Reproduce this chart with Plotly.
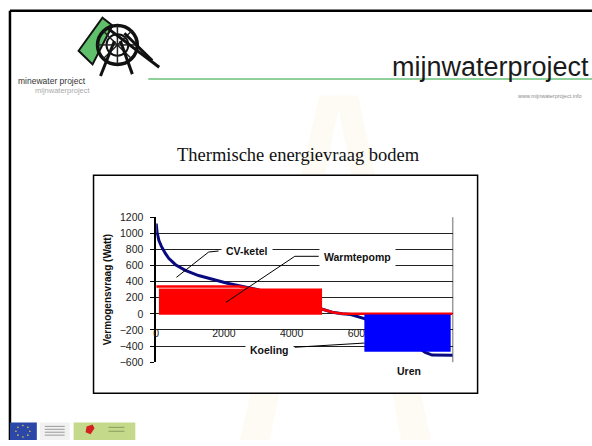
import plotly.graph_objects as go

W, H = 592, 446

# ---------------- data ----------------
hours = [0, 25, 80, 150, 270, 370, 570, 860, 1250, 1700, 2100, 2450, 3000, 3500,
         4000, 4500, 4900, 5200, 5500, 5750, 6150, 6600, 7100, 7600, 7950, 8150, 8760]
demand = [1120, 1010, 910, 840, 750, 690, 610, 540, 475, 420, 380, 350, 300, 240,
          175, 110, 53, 20, 0, -8, -60, -150, -260, -380, -478, -512, -515]

hp_hours = [0, 2450, 3000, 3500, 4000, 4500, 4900, 5200, 5500, 8760]
hp_power = [340, 340, 300, 240, 175, 110, 53, 20, 0, 0]

# drawn blocks on the slide: [x0, x1, y0, y1] in hours / Watt
warmtepomp_block = [80, 4900, -12, 315]
koeling_block = [6150, 8700, -7, -472]

y_ticks = [-600, -400, -200, 0, 200, 400, 600, 800, 1000, 1200]
x_ticks = [0, 2000, 4000, 6000, 8000]

chart_title = "Thermische energievraag bodem"
y_title = "Vermogensvraag (Watt)"
x_title = "Uren"

# callouts: text, label x/y, leader path points
callouts = [
    ("CV-ketel", 2675, 776, [(1843, 780), (1549, 767), (597, 453)]),
    ("Warmtepomp", 5938, 707, [(4800, 714), (4095, 714), (2058, 142)]),
    ("Koeling", 3336, -443, [(4095, -415), (6152, -363)]),
]

# ---------------- layout helpers (pixel -> paper) ----------------
def px(x):
    return x / W

def py(y):
    return 1 - y / H

PL, PR, PT, PB = 154, 452, 217, 366   # plot area in pixels
Y0, Y1 = -600, 1200
X0, X1 = 0, 8760

fig = go.Figure()

fig.add_trace(go.Scatter(x=hours, y=demand, mode="lines",
                         line=dict(color="#0a0a80", width=3), hoverinfo="skip",
                         showlegend=False))
fig.add_trace(go.Scatter(x=hp_hours, y=hp_power, mode="lines",
                         line=dict(color="#ff0000", width=2.5), hoverinfo="skip",
                         showlegend=False))

def ppath(points, close=True):
    s = "M " + " L ".join(f"{px(a)},{py(b)}" for a, b in points)
    return s + (" Z" if close else "")

shapes = []
# very faint watermark (headframe silhouette) in the slide background
WM = "#fdfbf3"
for pts in [
    [(318, 92), (340, 92), (268, 446), (238, 446)],
    [(335, 92), (357, 92), (430, 446), (400, 446)],
    [(296, 300), (392, 300), (398, 318), (290, 318)],
]:
    shapes.append(dict(type="path", xref="paper", yref="paper", path=ppath(pts),
                       fillcolor=WM, line=dict(width=0), layer="below"))

# overlay blocks
shapes.append(dict(type="rect", xref="x", yref="y",
                   x0=warmtepomp_block[0], x1=warmtepomp_block[1],
                   y0=warmtepomp_block[2], y1=warmtepomp_block[3],
                   fillcolor="#ff0000", line=dict(width=0), layer="above"))
shapes.append(dict(type="rect", xref="x", yref="y",
                   x0=koeling_block[0], x1=koeling_block[1],
                   y0=koeling_block[2], y1=koeling_block[3],
                   fillcolor="#0000ff", line=dict(width=0), layer="above"))
# leader lines
for text, lx, ly, pts in callouts:
    path = "M " + " L ".join(f"{a},{b}" for a, b in pts)
    shapes.append(dict(type="path", xref="x", yref="y", path=path,
                       line=dict(color="black", width=1), layer="above"))

# chart box (white panel)
shapes.append(dict(type="rect", xref="paper", yref="paper",
                   x0=px(91), x1=px(477), y0=py(398), y1=py(174),
                   fillcolor="white",
                   line=dict(color="black", width=1.5), layer="below"))
# plot frame (grey right)
shapes.append(dict(type="line", xref="paper", yref="paper",
                   x0=px(PR), x1=px(PR), y0=py(PB), y1=py(PT),
                   line=dict(color="#9a9a9a", width=1.5), layer="below"))
# slide border
shapes.append(dict(type="line", xref="paper", yref="paper",
                   x0=px(7), x1=px(592), y0=py(5), y1=py(5),
                   line=dict(color="black", width=2.5)))
shapes.append(dict(type="line", xref="paper", yref="paper",
                   x0=px(7), x1=px(7), y0=py(5), y1=py(446),
                   line=dict(color="black", width=2.5)))
# header green rule
shapes.append(dict(type="line", xref="paper", yref="paper",
                   x0=px(146), x1=px(592), y0=py(75), y1=py(75),
                   line=dict(color="#8fcf9a", width=2)))

# header logo (headframe)
shapes.append(dict(type="path", xref="paper", yref="paper",
                   path=ppath([(100, 12), (110, 20), (90, 60), (76, 46)]),
                   fillcolor="#5fbf6a", line=dict(color="#111", width=2)))
shapes.append(dict(type="circle", xref="paper", yref="paper",
                   x0=px(95), x1=px(135), y0=py(60), y1=py(20),
                   line=dict(color="#111", width=3.5)))
shapes.append(dict(type="circle", xref="paper", yref="paper",
                   x0=px(104), x1=px(126), y0=py(51), y1=py(29),
                   line=dict(color="#111", width=2)))
for (a, b) in [(115, 20), (135, 40), (115, 60), (95, 40), (129, 26), (101, 26), (129, 54), (101, 54)]:
    shapes.append(dict(type="line", xref="paper", yref="paper",
                       x0=px(115), y0=py(40), x1=px(a), y1=py(b),
                       line=dict(color="#222", width=1.5)))
for (a0, b0, a1, b1) in [(112, 36, 98, 72), (118, 36, 130, 70), (104, 22, 157, 63), (122, 28, 150, 56)]:
    shapes.append(dict(type="line", xref="paper", yref="paper",
                       x0=px(a0), y0=py(b0), x1=px(a1), y1=py(b1),
                       line=dict(color="#111", width=3)))

# bottom logos
shapes.append(dict(type="rect", xref="paper", yref="paper",
                   x0=px(7), x1=px(34), y0=py(446), y1=py(428),
                   fillcolor="#2b47a8", line=dict(width=0)))
for (a, b) in [(20, 431), (25, 433), (27, 437), (25, 441), (20, 443), (15, 441), (13, 437), (15, 433)]:
    shapes.append(dict(type="circle", xref="paper", yref="paper",
                       x0=px(a - 0.8), x1=px(a + 0.8), y0=py(b + 0.8), y1=py(b - 0.8),
                       fillcolor="#f0d040", line=dict(width=0)))
shapes.append(dict(type="rect", xref="paper", yref="paper",
                   x0=px(37), x1=px(67), y0=py(446), y1=py(428),
                   fillcolor="#f1f1f1", line=dict(width=0)))
for yy in [432, 435, 438, 441]:
    shapes.append(dict(type="line", xref="paper", yref="paper",
                       x0=px(42), x1=px(62), y0=py(yy), y1=py(yy),
                       line=dict(color="#9a9a9a", width=1)))
shapes.append(dict(type="rect", xref="paper", yref="paper",
                   x0=px(71), x1=px(133), y0=py(446), y1=py(428),
                   fillcolor="#c4d98a", line=dict(width=0)))
shapes.append(dict(type="path", xref="paper", yref="paper",
                   path=ppath([(84, 432), (90, 430), (92, 434), (88, 440), (83, 438)]),
                   fillcolor="#d42020", line=dict(width=0)))
for yy in [433, 437]:
    shapes.append(dict(type="line", xref="paper", yref="paper",
                       x0=px(106), x1=px(122), y0=py(yy), y1=py(yy),
                       line=dict(color="#8a9a60", width=1)))

annotations = []
LBL = dict(family="Liberation Sans, Arial, sans-serif", size=10.5, color="#111")
for text, lx, ly, pts in callouts:
    annotations.append(dict(x=lx, y=ly, xref="x", yref="y", text=f"<b>{text}</b>",
                            showarrow=False, font=LBL, bgcolor="white", borderpad=4))

annotations.append(dict(x=px(421.7), y=py(383.5), xref="paper", yref="paper",
                        text=f"<b>{x_title}</b>", showarrow=False, font=LBL))
annotations.append(dict(x=px(297.5), y=py(153), xref="paper", yref="paper",
                        text=chart_title, showarrow=False,
                        font=dict(family="Liberation Serif, Times New Roman, serif",
                                  size=18.5, color="#111")))
annotations.append(dict(x=px(591), y=py(45), xref="paper", yref="paper", xanchor="right",
                        text="mijnwaterproject", showarrow=False,
                        font=dict(family="Liberation Sans, Arial, sans-serif",
                                  size=27, color="#1a1a1a")))
annotations.append(dict(x=px(584), y=py(87.5), xref="paper", yref="paper", xanchor="right",
                        text="www.mijnwaterproject.info", showarrow=False,
                        font=dict(family="Liberation Sans, Arial, sans-serif",
                                  size=5.5, color="#8a8a8a")))
annotations.append(dict(x=px(13), y=py(70), xref="paper", yref="paper", xanchor="left",
                        text="minewater project", showarrow=False,
                        font=dict(family="Liberation Sans, Arial, sans-serif",
                                  size=8.5, color="#333")))
annotations.append(dict(x=px(30), y=py(80), xref="paper", yref="paper", xanchor="left",
                        text="mijnwaterproject", showarrow=False,
                        font=dict(family="Liberation Sans, Arial, sans-serif",
                                  size=7.5, color="#aaaaaa")))

dom_y = [py(PB), py(PT)]
zero_pos = dom_y[0] + (0 - Y0) / (Y1 - Y0) * (dom_y[1] - dom_y[0])

fig.update_layout(
    width=W, height=H, autosize=False,
    margin=dict(l=0, r=0, t=0, b=0),
    paper_bgcolor="white", plot_bgcolor="rgba(0,0,0,0)",
    shapes=shapes, annotations=annotations,
    xaxis=dict(domain=[px(PL), px(PR)], range=[X0, X1], tickvals=x_ticks,
               showgrid=False, zeroline=False, showline=False,
               anchor="free", position=zero_pos,
               ticks="", ticklabelstandoff=12,
               tickfont=dict(family="Liberation Sans, Arial, sans-serif", size=10.5, color="#222")),
    yaxis=dict(domain=dom_y, range=[Y0, Y1], tickvals=y_ticks,
               showgrid=True, gridcolor="#222", gridwidth=1,
               zeroline=False, showline=True, linecolor="black", linewidth=1.5,
               ticks="outside", ticklen=4, tickcolor="black", ticklabelstandoff=5,
               tickfont=dict(family="Liberation Sans, Arial, sans-serif", size=10.5, color="#222"),
               title=dict(text=f"<b>{y_title}</b>", standoff=6,
                          font=dict(family="Liberation Sans, Arial, sans-serif", size=10, color="#111"))),
)

fig.write_html("out.html", config={"displayModeBar": False},
               post_script="document.body.style.margin='0';document.body.style.padding='0';")
